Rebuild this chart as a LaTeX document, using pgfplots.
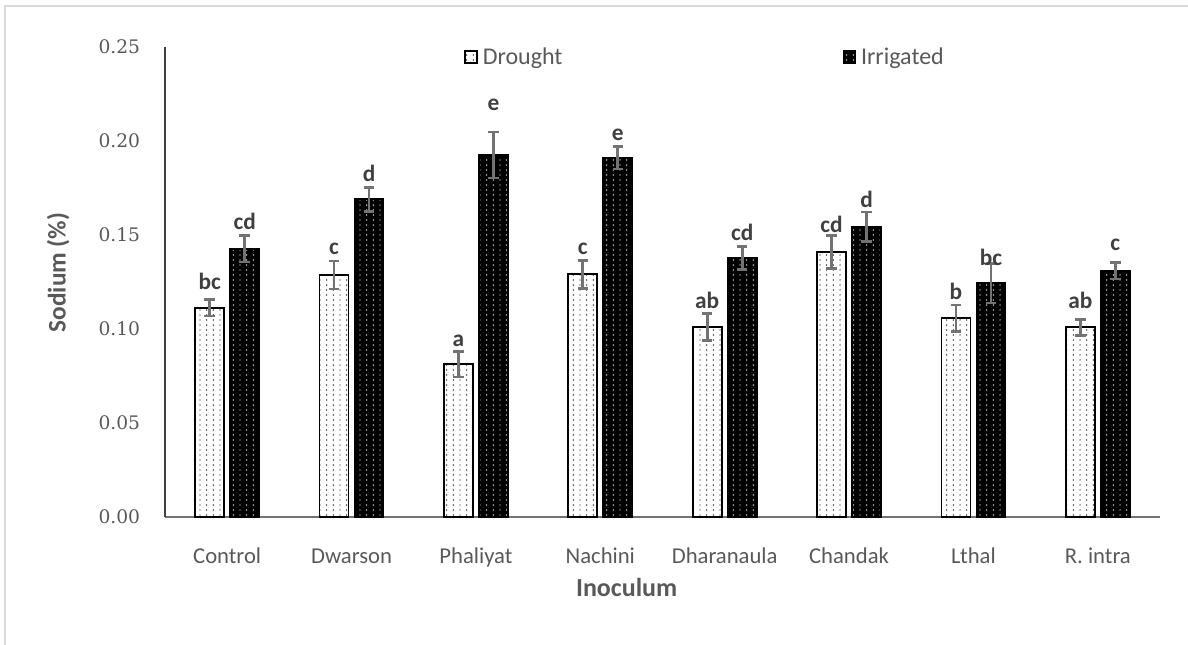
\documentclass[border=0pt]{standalone}
\usepackage{fontspec}
\setmainfont{Carlito}
\newfontfamily\serifnum{DejaVu Serif}
\usepackage{pgfplots}
\usepackage{pgfplotstable}
\pgfplotsset{compat=1.18}
\usetikzlibrary{patterns}
\pgfdeclarepatternformonly{mydots}{\pgfqpoint{-1pt}{-1pt}}{\pgfqpoint{6pt}{5pt}}{\pgfqpoint{5pt}{3.75pt}}{\pgfpathcircle{\pgfqpoint{0pt}{0pt}}{0.55pt}\pgfusepath{fill}}
\definecolor{txt}{HTML}{595959}
\definecolor{lbl}{HTML}{404040}
\definecolor{errc}{HTML}{737373}
\definecolor{framec}{HTML}{D9D9D9}

% x = category position shifted to the bar centre
\pgfplotstableread{
x y e
-0.1407 0.1113 0.0043
0.8593 0.1287 0.0074
1.8593 0.0812 0.0067
2.8593 0.1291 0.0074
3.8593 0.1011 0.0071
4.8593 0.1411 0.0088
5.8593 0.1057 0.0070
6.8593 0.1009 0.0042
}\drought
\pgfplotstableread{
x y e
0.1407 0.1426 0.0070
1.1407 0.1690 0.0064
2.1407 0.1926 0.0122
3.1407 0.1911 0.0060
4.1407 0.1379 0.0061
5.1407 0.1544 0.0078
6.1407 0.1243 0.0104
7.1407 0.1309 0.0043
}\irrigated
\pgfplotstableread{
x y label
-0.1407 0.1209 bc
0.1407 0.1527 cd
0.8593 0.1394 c
1.1407 0.1787 d
1.8593 0.0906 a
2.1407 0.2160 e
2.8593 0.1394 c
3.1407 0.2005 e
3.8593 0.1110 ab
4.1407 0.1473 cd
4.8593 0.1511 cd
5.1407 0.1644 d
5.8593 0.1158 b
6.1407 0.1340 bc
6.8593 0.1110 ab
7.1407 0.1420 c
}\labels

\begin{document}
\begin{tikzpicture}[x=1pt,y=1pt]
\path[use as bounding box] (0,0) rectangle (891,483.75);
\draw[framec, line width=1.5pt] (3.75,0) -- (3.75,479.5) -- (891,479.5);
\begin{axis}[
  at={(123.75pt,96pt)}, anchor=south west,
  scale only axis, width=746.25pt, height=352.5pt,
  xmin=-0.5, xmax=7.5, ymin=0, ymax=0.25,
  clip=false,
  axis x line*=bottom, axis y line*=left,
  x axis line style={black!55, line width=0.8pt},
  y axis line style={black!75, line width=0.8pt},
  major tick length=0pt,
  xtick={0,1,2,3,4,5,6,7},
  xticklabels={Control, Dwarson, Phaliyat, Nachini, Dharanaula, Chandak, Lthal, R. intra},
  ytick={0,0.05,0.1,0.15,0.2,0.25},
  /pgf/number format/assume math mode=true,
  yticklabel style={/pgf/number format/fixed, /pgf/number format/fixed zerofill, /pgf/number format/precision=2,
    font=\serifnum\fontsize{14}{16}\selectfont, color=txt, anchor=east, inner sep=0pt, xshift=-18.5pt},
  xticklabel style={font=\fontsize{17}{19}\selectfont, color=txt, anchor=base, inner sep=0pt, yshift=-35pt},
  xlabel={Inoculum},
  xlabel style={at={(axis description cs:0.464,0)}, anchor=base, inner sep=0pt, yshift=-60pt,
    font=\bfseries\fontsize{19.5}{21}\selectfont, color=txt},
  ylabel={Sodium (\%)},
  ylabel style={at={(axis description cs:-0.1075,0.52)}, anchor=center, inner sep=0pt,
    font=\bfseries\fontsize{19}{21}\selectfont, color=txt},
  legend columns=2,
  legend image code/.code={\draw[#1, line width=1.4pt] (0pt,-4.5pt) rectangle (9pt,4.5pt);},
  legend style={at={(axis description cs:0.3005,0.979)}, anchor=west, draw=none, fill=none,
    inner sep=0pt, font=\fontsize{18}{20}\selectfont, text=txt,
    /tikz/every odd column/.append style={column sep=1.5pt},
    /tikz/every even column/.append style={column sep=208pt}},
  legend cell align=left,
]
\addplot[ybar, bar width=21.75pt, bar shift=0pt, fill=white, draw=black, line width=1.3pt,
  postaction={pattern=mydots, pattern color=black},
  error bars/.cd, y dir=both, y explicit,
  error bar style={errc, line width=2pt},
  error mark options={errc, rotate=90, mark size=3.9pt, line width=2pt}]
  table[x=x, y=y, y error=e] {\drought};
\addplot[ybar, bar width=21.75pt, bar shift=0pt, fill=black, draw=black, line width=1.3pt,
  postaction={pattern=mydots, pattern color=white},
  error bars/.cd, y dir=both, y explicit,
  error bar style={errc, line width=2pt},
  error mark options={errc, rotate=90, mark size=3.9pt, line width=2pt}]
  table[x=x, y=y, y error=e] {\irrigated};
\addplot[only marks, mark=none, nodes near coords, point meta=explicit symbolic,
  every node near coord/.append style={anchor=base, inner sep=0pt,
    font=\bfseries\fontsize{17.5}{19}\selectfont, color=lbl}]
  table[x=x, y=y, meta=label] {\labels};
\legend{Drought, Irrigated}
\end{axis}
\end{tikzpicture}
\end{document}
